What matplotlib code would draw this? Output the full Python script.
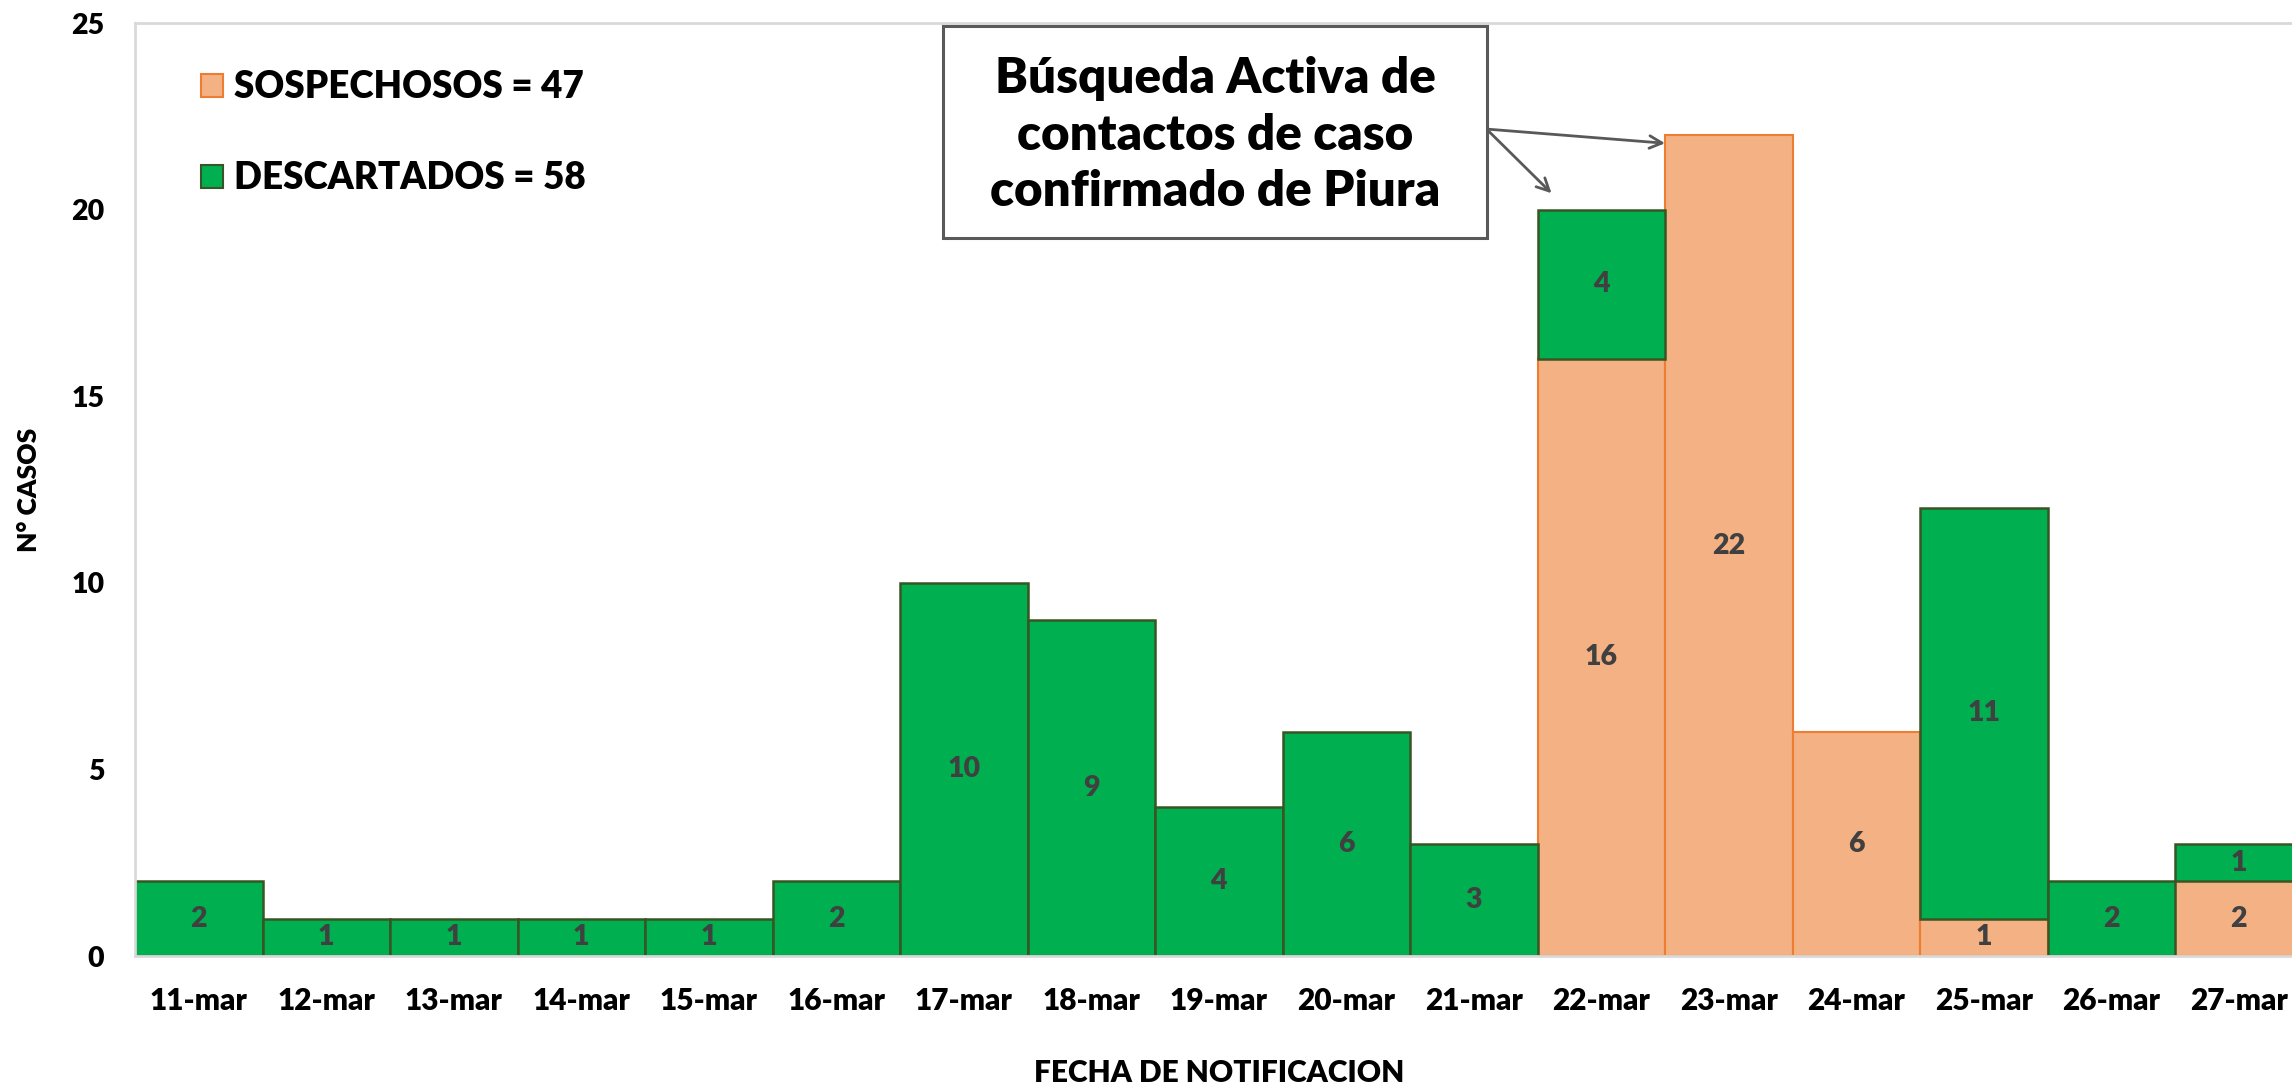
import matplotlib
matplotlib.use("Agg")
import matplotlib.pyplot as plt
from matplotlib.patches import Patch, Rectangle

plt.rcParams['font.family'] = ['Lato', 'DejaVu Sans']
W = 'heavy'

fechas = ['11-mar', '12-mar', '13-mar', '14-mar', '15-mar', '16-mar', '17-mar', '18-mar',
          '19-mar', '20-mar', '21-mar', '22-mar', '23-mar', '24-mar', '25-mar', '26-mar', '27-mar']
sospechosos = [0, 0, 0, 0, 0, 0, 0, 0, 0, 0, 0, 16, 22, 6, 1, 0, 2]
descartados = [2, 1, 1, 1, 1, 2, 10, 9, 4, 6, 3, 4, 0, 0, 11, 2, 1]
yticks = [0, 5, 10, 15, 20, 25]

GREEN = '#00B050'
GREEN_EDGE = '#375623'
ORANGE = '#F4B183'
ORANGE_EDGE = '#ED7D31'

fig = plt.figure(figsize=(22.92, 10.89), dpi=100)
ax = fig.add_axes([0.0589, 0.1221, 0.9457, 0.8567])

x = list(range(len(fechas)))
b1 = ax.bar(x, sospechosos, width=1.0, color=ORANGE,
            edgecolor=ORANGE_EDGE, linewidth=[1.5 if v > 0 else 0 for v in sospechosos])
b2 = ax.bar(x, descartados, width=1.0, bottom=sospechosos, color=GREEN,
            edgecolor=GREEN_EDGE, linewidth=[1.8 if v > 0 else 0 for v in descartados])

ax.bar_label(b1, labels=[str(v) if v > 0 else '' for v in sospechosos], label_type='center',
             fontsize=20.5, fontweight=W, color='#404040')
ax.bar_label(b2, labels=[str(v) if v > 0 else '' for v in descartados], label_type='center',
             fontsize=20.5, fontweight=W, color='#404040')

ax.set_xlim(-0.5, len(fechas) - 0.5)
ax.set_ylim(0, 25)
ax.set_yticks(yticks)
ax.set_yticklabels([str(t) for t in yticks], fontweight=W)
ax.set_xticks(x)
ax.set_xticklabels(fechas, fontweight=W)
ax.tick_params(axis='both', length=0)
ax.tick_params(axis='x', labelsize=21.5, pad=22)
ax.tick_params(axis='y', labelsize=20.5, pad=22)

for s in ['left', 'top', 'bottom']:
    ax.spines[s].set_color('#D9D9D9')
    ax.spines[s].set_linewidth(2)
ax.spines['right'].set_visible(False)

ax.set_ylabel('N° CASOS', fontsize=19, fontweight=W, labelpad=22)
ax.set_xlabel('FECHA DE NOTIFICACION', fontsize=21.5, fontweight=W, labelpad=32)

handles = [Patch(facecolor=ORANGE, edgecolor=ORANGE_EDGE, linewidth=1.5),
           Patch(facecolor=GREEN, edgecolor=GREEN_EDGE, linewidth=1.5)]
ax.legend(handles, [f'SOSPECHOSOS = {sum(sospechosos)}', f'DESCARTADOS = {sum(descartados)}'],
          loc='upper left', bbox_to_anchor=(0.015, 0.985), frameon=False,
          prop={'size': 26.5, 'weight': W}, handlelength=0.6, handleheight=0.6,
          handletextpad=0.3, labelspacing=1.55)

ax.add_patch(Rectangle((5.84, 19.24), 10.1 - 5.84, 24.92 - 19.24, facecolor='white',
                       edgecolor='#595959', linewidth=2.2, zorder=5, clip_on=False))
ax.text(7.97, 22.0, 'Búsqueda Activa de\ncontactos de caso\nconfirmado de Piura',
        ha='center', va='center', fontsize=35.5, fontweight=W, linespacing=1.3, zorder=6)

arrow = dict(arrowstyle='->,head_length=0.9,head_width=0.45', color='#595959', lw=2,
             shrinkA=0, shrinkB=0)
ax.annotate('', xy=(11.5, 21.78), xytext=(10.1, 22.16), arrowprops=arrow)
ax.annotate('', xy=(10.61, 20.44), xytext=(10.1, 22.16), arrowprops=arrow)

fig.savefig('out.png', dpi=100)
